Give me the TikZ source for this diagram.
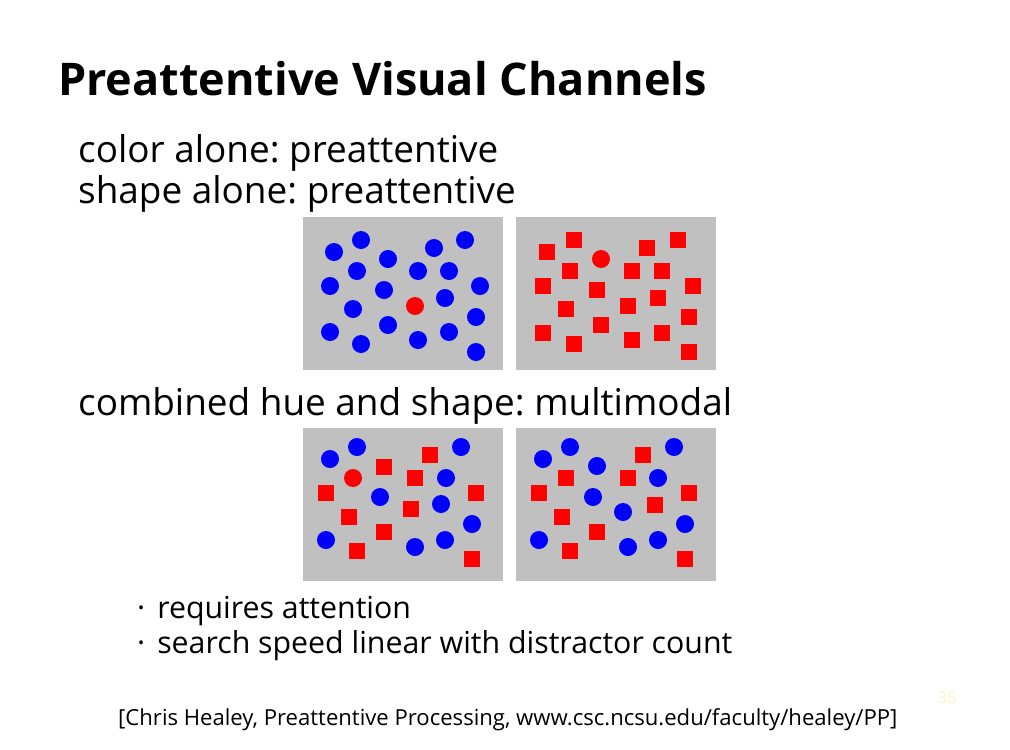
\documentclass[tikz,border=0pt]{standalone}
\usepackage{fontspec}
\setmainfont{Open Sans}
\frenchspacing
\definecolor{panelgray}{RGB}{192,192,192}
\definecolor{dotblue}{RGB}{0,0,255}
\definecolor{dotred}{RGB}{255,0,0}
\definecolor{pagenum}{RGB}{255,244,190}
\tikzset{
  txt/.style={anchor=base west,inner sep=0pt},
  panel/.style={fill=panelgray},
  bluedot/.style={fill=dotblue},
  reddot/.style={fill=dotred},
  redsq/.style={fill=dotred}
}
\begin{document}
\begin{tikzpicture}[x=1pt,y=-1pt]
  \useasboundingbox[fill=white] (0,0) rectangle (1010,750);
  % title and headings
  \node[txt] (title) at (58,95) {\fontsize{45}{50}\selectfont\bfseries Preattentive Visual Channels};
  \node[txt] (color) at (78,162) {\fontsize{36.9}{42}\selectfont color alone: preattentive};
  \node[txt] (shape) at (78,203) {\fontsize{36.9}{42}\selectfont shape alone: preattentive};
  \node[txt] (combined) at (78,415) {\fontsize{36.9}{42}\selectfont combined hue and shape: multimodal};
  % panels
  \fill[panel] (303,217) rectangle (503,370);
  \fill[panel] (516,217) rectangle (716,370);
  \fill[panel] (303,428) rectangle (503,581);
  \fill[panel] (516,428) rectangle (716,581);
  % color alone
  \foreach \x/\y in {334/252,361/240,388/259,434/248,465/240,357/271,418/271,449/271,
    330/286,384/290,480/286,445/298,353/309,476/317,388/325,330/332,361/344,418/340,
    449/332,476/352}
    \fill[bluedot] (\x,\y) circle[radius=9pt];
  \fill[reddot] (415,306) circle[radius=9pt];
  % shape alone
  \foreach \x/\y in {547/252,574/240,647/248,678/240,570/271,632/271,662/271,
    543/286,597/290,693/286,658/298,628/306,566/309,689/317,601/325,543/333,574/344,
    632/340,662/333,689/352}
    \fill[redsq] (\x-8,\y-8) rectangle ++(16,16);
  \fill[reddot] (601,259) circle[radius=9pt];
  % combined, target present
  \foreach \x/\y in {330/459,357/447,461/447,446/478,380/497,441/504,472/524,
    326/540,445/540,415/547}
    \fill[bluedot] (\x,\y) circle[radius=9pt];
  \fill[reddot] (353,478) circle[radius=9pt];
  \foreach \x/\y in {430/455,384/467,415/478,326/493,476/493,411/509,349/517,
    384/532,357/551,472/559}
    \fill[redsq] (\x-8,\y-8) rectangle ++(16,16);
  % combined, target absent
  \foreach \x/\y in {543/459,570/447,674/447,597/466,658/478,593/497,623/512,
    685/524,539/540,658/540,628/547}
    \fill[bluedot] (\x,\y) circle[radius=9pt];
  \foreach \x/\y in {643/455,566/478,628/478,539/493,689/493,655/505,562/517,
    597/532,570/551,685/559}
    \fill[redsq] (\x-8,\y-8) rectangle ++(16,16);
  % bullets
  \node[txt] (attn) at (137,618) {\fontsize{30.3}{35}\selectfont ·\hspace{12pt}requires attention};
  \node[txt] (speed) at (137,653) {\fontsize{30.3}{35}\selectfont ·\hspace{12pt}search speed linear with distractor count};
  % citation and page number
  \node[txt] (cite) at (118,725) {\fontsize{22.1}{26}\selectfont [Chris Healey, Preattentive Processing, www.csc.ncsu.edu/faculty/healey/PP]};
  \node[txt,text=pagenum] (page) at (938,703) {\fontsize{16}{20}\selectfont 35};
\end{tikzpicture}
\end{document}
